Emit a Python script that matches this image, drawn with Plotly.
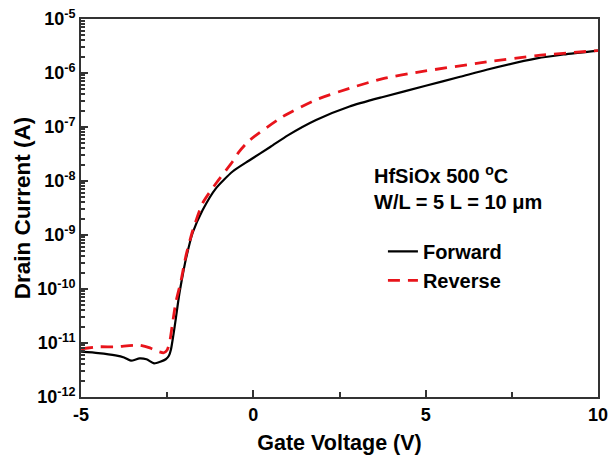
import plotly.graph_objects as go

# Forward sweep
fwd_v = [-5.0, -4.5, -4.0, -3.75, -3.55, -3.3, -3.1, -2.88, -2.7, -2.54, -2.45, -2.39,
         -2.32, -2.25, -2.15, -2.05, -1.96, -1.76, -1.47, -1.08, -0.6, -0.12, 0.5, 1.0,
         1.82, 2.79, 3.76, 5.0, 6.0, 6.77, 8.22, 9.0, 10.0]
fwd_i = [6.9e-12, 6.5e-12, 5.9e-12, 5.4e-12, 4.7e-12, 5.2e-12, 5.0e-12, 4.2e-12, 4.5e-12,
         5.0e-12, 5.8e-12, 7.6e-12, 1.4e-11, 2.8e-11, 7.9e-11, 1.8e-10, 3.5e-10, 1.1e-9,
         2.9e-9, 7.4e-9, 1.5e-8, 2.4e-8, 4.3e-8, 7.0e-8, 1.35e-7, 2.4e-7, 3.6e-7, 5.8e-7,
         8.5e-7, 1.15e-6, 1.86e-6, 2.2e-6, 2.6e-6]

# Reverse sweep
rev_v = [-5.0, -4.5, -4.0, -3.3, -3.0, -2.75, -2.6, -2.5, -2.42, -2.35, -2.25, -2.1,
         -1.96, -1.76, -1.47, -1.08, -0.6, -0.41, -0.12, 0.85, 1.82, 2.79, 3.76, 4.83,
         6.77, 8.22, 10.0]
rev_i = [7.8e-12, 8.5e-12, 8.5e-12, 9.1e-12, 8.1e-12, 6.9e-12, 6.6e-12, 7.4e-12, 1.1e-11,
         2.2e-11, 5.6e-11, 1.4e-10, 4.0e-10, 1.2e-9, 3.9e-9, 9.1e-9, 2.3e-8, 3.5e-8,
         5.6e-8, 1.55e-7, 3.2e-7, 5.2e-7, 7.9e-7, 1.05e-6, 1.6e-6, 2.1e-6, 2.6e-6]

x_ticks = [-5, 0, 5, 10]
x_ticktext = ["-5", "0", "5", "10"]
y_exps = [-12, -11, -10, -9, -8, -7, -6, -5]
y_tickvals = [10.0 ** e for e in y_exps]
y_ticktext = ["10<sup>%d</sup>" % e for e in y_exps]
y_minor = [k * 10.0 ** e for e in y_exps[:-1] for k in range(2, 10)]

FONT = "Liberation Sans, Arial, sans-serif"

fig = go.Figure()
fig.add_trace(go.Scatter(x=fwd_v, y=fwd_i, mode="lines", name="Forward",
                         line=dict(color="black", width=2.2, shape="spline", smoothing=0.6)))
fig.add_trace(go.Scatter(x=rev_v, y=rev_i, mode="lines", name="Reverse",
                         line=dict(color="#e8141b", width=2.8, dash="12px,8px",
                                   shape="spline", smoothing=0.6)))

fig.update_layout(
    width=610, height=460,
    margin=dict(l=81, r=12, t=19, b=63, autoexpand=False),
    paper_bgcolor="white", plot_bgcolor="white",
    font=dict(family=FONT, color="black"),
    showlegend=True,
    legend=dict(x=0.584, y=0.437, xanchor="left", yanchor="top",
                bgcolor="rgba(0,0,0,0)",
                font=dict(size=20, family=FONT, weight="bold", color="black"),
                itemwidth=30, tracegroupgap=0),
    xaxis=dict(range=[-5, 10], tickvals=x_ticks, ticktext=x_ticktext, ticks="inside",
               ticklen=7, tickwidth=1.5, tickcolor="#333", automargin=False,
               showline=True, linecolor="#333", linewidth=2, mirror=True,
               showgrid=False, zeroline=False,
               tickfont=dict(size=18, family=FONT, weight="bold"),
               title=dict(text="Gate Voltage (V)", standoff=11,
                          font=dict(size=21.5, family=FONT, weight="bold")),
               minor=dict(tickvals=[-2.5, 2.5, 7.5], ticks="inside", ticklen=5,
                          tickcolor="#333", showgrid=False)),
    yaxis=dict(type="log", range=[-12, -5], tickvals=y_tickvals, ticktext=y_ticktext,
               ticks="inside", ticklen=7, tickwidth=1.5, tickcolor="#333", automargin=False,
               showline=True, linecolor="#333", linewidth=2, mirror=True,
               showgrid=False, zeroline=False,
               tickfont=dict(size=18, family=FONT, weight="bold"),
               title=dict(text="Drain Current (A)", standoff=0,
                          font=dict(size=22.5, family=FONT, weight="bold")),
               minor=dict(tickvals=y_minor, ticks="inside", ticklen=4,
                          tickcolor="#333", showgrid=False)),
)

fig.add_annotation(xref="paper", yref="paper", x=0.563, y=0.627, xanchor="left",
                   yanchor="top", align="left", showarrow=False,
                   text="HfSiOx 500 <sup>o</sup>C<br>W/L = 5 L = 10 μm",
                   font=dict(size=20, family=FONT, weight="bold", color="black"))

fig.write_html("out.html")
